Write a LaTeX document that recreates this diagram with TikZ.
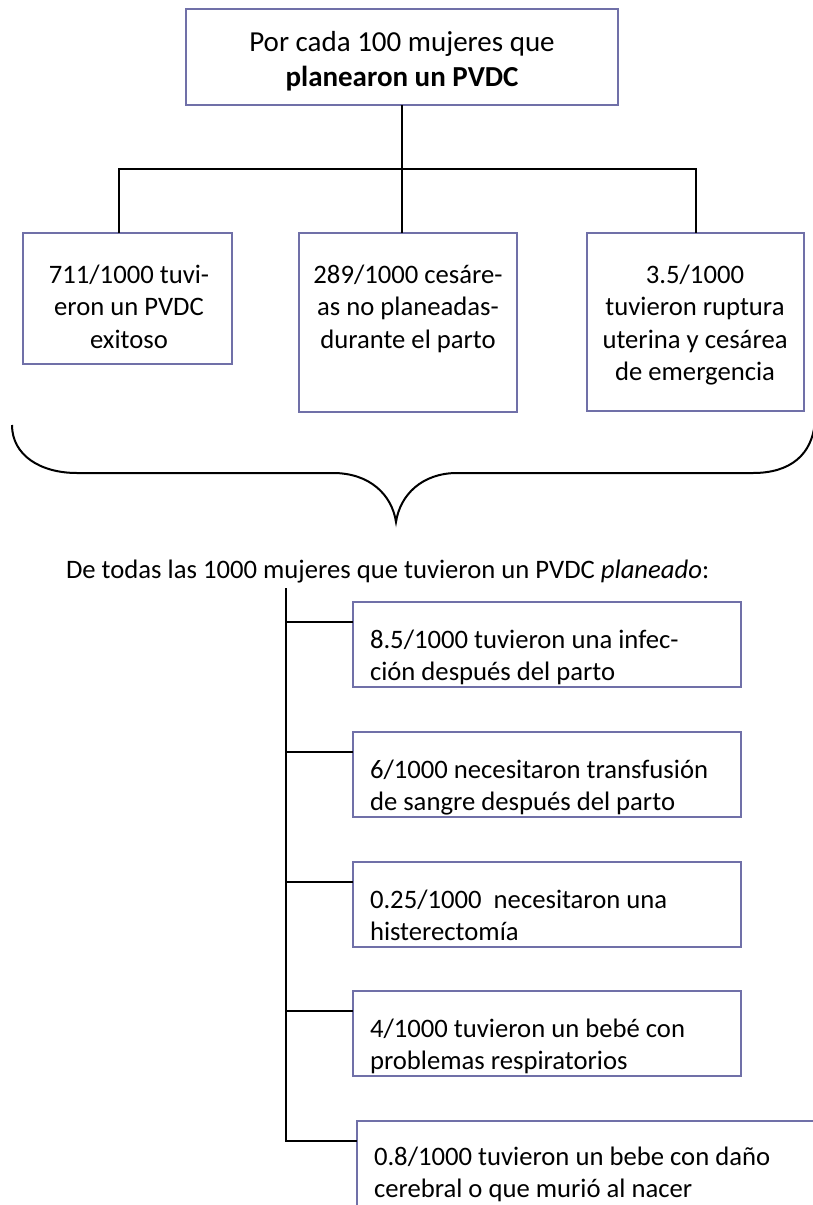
\documentclass[tikz,border=0pt]{standalone}
\usepackage{fontspec}
\setmainfont{Carlito}
\definecolor{boxc}{RGB}{112,112,168}
\begin{document}
\begin{tikzpicture}[x=1pt,y=-1pt,
  box/.style={draw=boxc, line width=2pt, fill=white, inner sep=0pt, outer sep=0pt, anchor=north west},
  conn/.style={draw=black, line width=2pt},
  txt/.style={inner sep=0pt, outer sep=0pt, anchor=base, font=\fontsize{26.67}{32.5}\selectfont},
  ltxt/.style={txt, anchor=base west},
  ]
\clip (0,0) rectangle (813,1205);
\fill[white] (0,0) rectangle (813,1205);
% top level boxes
\node[box, minimum width=432pt, minimum height=96pt] (top) at (186,9) {};
\node[box, minimum width=209pt, minimum height=131pt] (left) at (23,233) {};
\node[box, minimum width=218pt, minimum height=179pt] (mid) at (299,233) {};
\node[box, minimum width=217pt, minimum height=178pt] (right) at (587,233) {};
% texts
\node[txt] (ttop) at (402,51) {\fontsize{29}{35}\selectfont\begin{tabular}[t]{@{}c@{}}Por cada 100 mujeres que\\\textbf{planearon un PVDC}\end{tabular}};
\node[txt] (tleft) at (129,283) {\begin{tabular}[t]{@{}c@{}}711/1000 tuvi-\\eron un PVDC\\exitoso\end{tabular}};
\node[txt] (tmid) at (408,283) {\begin{tabular}[t]{@{}c@{}}289/1000 cesáre-\\as no planeadas-\\durante el parto\end{tabular}};
\node[txt] (tright) at (695,283) {\begin{tabular}[t]{@{}c@{}}3.5/1000\\tuvieron ruptura\\uterina y cesárea\\de emergencia\end{tabular}};
% connectors top
\coordinate (jl) at (119,169);
\coordinate (jr) at (696,169);
\draw[conn] (top.south) -- (top.south |- mid.north);
\draw[conn] (jl |- left.north) -- (jl) -- (jr) -- (jr |- right.north);
% brace
\draw[conn] (12,425) .. controls (12,455) and (40,473) .. (77,473) -- (333,473)
  .. controls (370,473) and (392,495) .. (396,522)
  .. controls (400,495) and (422,473) .. (457,473) -- (753,473)
  .. controls (790,473) and (813,455) .. (815,420);
% caption
\node[ltxt] (cap) at (66,578) {De todas las 1000 mujeres que tuvieron un PVDC \textit{planeado}:};
% bottom boxes
\node[box, minimum width=388pt, minimum height=85pt] (b1) at (353,602) {};
\node[box, minimum width=388pt, minimum height=85pt] (b2) at (353,732) {};
\node[box, minimum width=388pt, minimum height=85pt] (b3) at (353,862) {};
\node[box, minimum width=388pt, minimum height=85pt] (b4) at (353,991) {};
\node[box, minimum width=500pt, minimum height=120pt] (b5) at (357,1121) {};
\node[ltxt] (t1) at (370,648) {\begin{tabular}[t]{@{}l@{}}8.5/1000 tuvieron una infec-\\ción después del parto\end{tabular}};
\node[ltxt] (t2) at (370,778) {\begin{tabular}[t]{@{}l@{}}6/1000 necesitaron transfusión\\de sangre después del parto\end{tabular}};
\node[ltxt] (t3) at (370,908) {\begin{tabular}[t]{@{}l@{}}0.25/1000\ \ necesitaron una\\histerectomía\end{tabular}};
\node[ltxt] (t4) at (370,1037) {\begin{tabular}[t]{@{}l@{}}4/1000 tuvieron un bebé con\\problemas respiratorios\end{tabular}};
\node[ltxt] (t5) at (374,1165) {\begin{tabular}[t]{@{}l@{}}0.8/1000 tuvieron un bebe con daño\\cerebral o que murió al nacer\end{tabular}};
% tree connectors
\coordinate (vtop) at (286,588);
\coordinate (p1) at ([yshift=-20pt]b1.north west);
\coordinate (p2) at ([yshift=-20pt]b2.north west);
\coordinate (p3) at ([yshift=-20pt]b3.north west);
\coordinate (p4) at ([yshift=-20pt]b4.north west);
\coordinate (p5) at ([yshift=-20pt]b5.north west);
\draw[conn] (vtop) |- (p5);
\draw[conn] (vtop |- p1) -- (p1);
\draw[conn] (vtop |- p2) -- (p2);
\draw[conn] (vtop |- p3) -- (p3);
\draw[conn] (vtop |- p4) -- (p4);
\end{tikzpicture}
\end{document}
